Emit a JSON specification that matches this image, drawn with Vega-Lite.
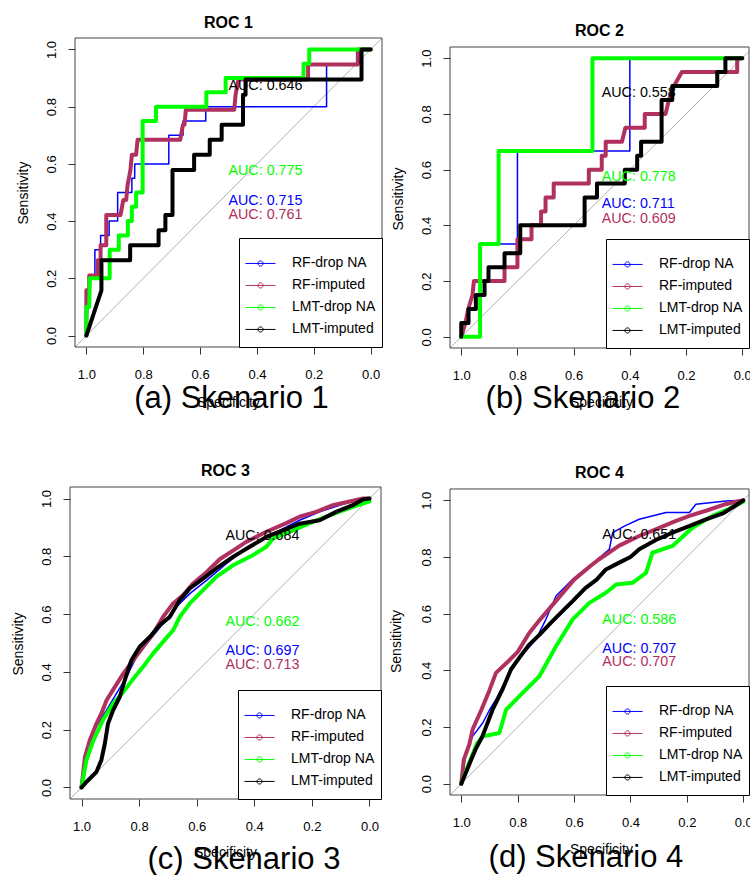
{
"$schema": "https://vega.github.io/schema/vega-lite/v6.json",
"background": "white",
"padding": {"left": 11, "top": 14, "right": 0, "bottom": 0},
"config": {
  "font": "Liberation Sans",
  "view": {"stroke": null},
  "axis": {"grid": false, "domain": false, "ticks": true, "tickColor": "#333", "tickSize": 7, "tickWidth": 1, "labelColor": "black", "labelFontSize": 13, "labelFont": "Liberation Sans", "titleFont": "Liberation Sans", "titleFontSize": 14, "titleFontWeight": "normal", "titleColor": "black", "labelFlush": false, "labelOverlap": false},
  "axisX": {"labelAngle": 0, "labelBaseline": "alphabetic", "labelPadding": 24, "labelAlign": "center"},
  "axisY": {"labelAngle": 270, "labelAlign": "center", "labelBaseline": "alphabetic", "labelPadding": 13},
  "title": {"font": "Liberation Sans", "fontSize": 16, "fontWeight": "bold", "color": "black", "frame": "group", "anchor": "middle", "offset": 7},
  "text": {"font": "Liberation Sans"}
},
"datasets": {
  "roc1": [
    {"spec":1,"sens":0,"series":"RF-drop NA"},{"spec":0.99,"sens":0.2,"series":"RF-drop NA"},{"spec":0.97,"sens":0.2,"series":"RF-drop NA"},{"spec":0.97,"sens":0.3,"series":"RF-drop NA"},{"spec":0.95,"sens":0.3,"series":"RF-drop NA"},{"spec":0.95,"sens":0.35,"series":"RF-drop NA"},{"spec":0.92,"sens":0.35,"series":"RF-drop NA"},{"spec":0.92,"sens":0.4,"series":"RF-drop NA"},{"spec":0.89,"sens":0.4,"series":"RF-drop NA"},{"spec":0.89,"sens":0.5,"series":"RF-drop NA"},{"spec":0.84,"sens":0.5,"series":"RF-drop NA"},{"spec":0.84,"sens":0.55,"series":"RF-drop NA"},{"spec":0.83,"sens":0.55,"series":"RF-drop NA"},{"spec":0.83,"sens":0.6,"series":"RF-drop NA"},{"spec":0.71,"sens":0.6,"series":"RF-drop NA"},{"spec":0.71,"sens":0.7,"series":"RF-drop NA"},{"spec":0.66,"sens":0.7,"series":"RF-drop NA"},{"spec":0.66,"sens":0.75,"series":"RF-drop NA"},{"spec":0.58,"sens":0.75,"series":"RF-drop NA"},{"spec":0.58,"sens":0.8,"series":"RF-drop NA"},{"spec":0.155,"sens":0.8,"series":"RF-drop NA"},{"spec":0.155,"sens":0.95,"series":"RF-drop NA"},{"spec":0.04,"sens":0.95,"series":"RF-drop NA"},{"spec":0.04,"sens":1,"series":"RF-drop NA"},{"spec":0,"sens":1,"series":"RF-drop NA"},
    {"spec":1,"sens":0,"series":"RF-imputed"},{"spec":1,"sens":0.158,"series":"RF-imputed"},{"spec":0.99,"sens":0.158,"series":"RF-imputed"},{"spec":0.99,"sens":0.21,"series":"RF-imputed"},{"spec":0.96,"sens":0.21,"series":"RF-imputed"},{"spec":0.96,"sens":0.263,"series":"RF-imputed"},{"spec":0.95,"sens":0.263,"series":"RF-imputed"},{"spec":0.95,"sens":0.316,"series":"RF-imputed"},{"spec":0.93,"sens":0.316,"series":"RF-imputed"},{"spec":0.93,"sens":0.421,"series":"RF-imputed"},{"spec":0.88,"sens":0.421,"series":"RF-imputed"},{"spec":0.87,"sens":0.474,"series":"RF-imputed"},{"spec":0.86,"sens":0.474,"series":"RF-imputed"},{"spec":0.855,"sens":0.526,"series":"RF-imputed"},{"spec":0.845,"sens":0.579,"series":"RF-imputed"},{"spec":0.84,"sens":0.632,"series":"RF-imputed"},{"spec":0.825,"sens":0.632,"series":"RF-imputed"},{"spec":0.82,"sens":0.684,"series":"RF-imputed"},{"spec":0.67,"sens":0.684,"series":"RF-imputed"},{"spec":0.66,"sens":0.737,"series":"RF-imputed"},{"spec":0.655,"sens":0.737,"series":"RF-imputed"},{"spec":0.65,"sens":0.789,"series":"RF-imputed"},{"spec":0.48,"sens":0.789,"series":"RF-imputed"},{"spec":0.475,"sens":0.842,"series":"RF-imputed"},{"spec":0.465,"sens":0.895,"series":"RF-imputed"},{"spec":0.22,"sens":0.895,"series":"RF-imputed"},{"spec":0.22,"sens":0.947,"series":"RF-imputed"},{"spec":0.045,"sens":0.947,"series":"RF-imputed"},{"spec":0.045,"sens":1,"series":"RF-imputed"},{"spec":0,"sens":1,"series":"RF-imputed"},
    {"spec":1,"sens":0,"series":"LMT-drop NA"},{"spec":1,"sens":0.1,"series":"LMT-drop NA"},{"spec":0.99,"sens":0.1,"series":"LMT-drop NA"},{"spec":0.988,"sens":0.2,"series":"LMT-drop NA"},{"spec":0.918,"sens":0.2,"series":"LMT-drop NA"},{"spec":0.918,"sens":0.3,"series":"LMT-drop NA"},{"spec":0.886,"sens":0.3,"series":"LMT-drop NA"},{"spec":0.886,"sens":0.35,"series":"LMT-drop NA"},{"spec":0.854,"sens":0.35,"series":"LMT-drop NA"},{"spec":0.854,"sens":0.4,"series":"LMT-drop NA"},{"spec":0.84,"sens":0.4,"series":"LMT-drop NA"},{"spec":0.84,"sens":0.45,"series":"LMT-drop NA"},{"spec":0.825,"sens":0.45,"series":"LMT-drop NA"},{"spec":0.825,"sens":0.5,"series":"LMT-drop NA"},{"spec":0.802,"sens":0.5,"series":"LMT-drop NA"},{"spec":0.802,"sens":0.75,"series":"LMT-drop NA"},{"spec":0.755,"sens":0.75,"series":"LMT-drop NA"},{"spec":0.755,"sens":0.8,"series":"LMT-drop NA"},{"spec":0.578,"sens":0.8,"series":"LMT-drop NA"},{"spec":0.578,"sens":0.85,"series":"LMT-drop NA"},{"spec":0.51,"sens":0.85,"series":"LMT-drop NA"},{"spec":0.51,"sens":0.9,"series":"LMT-drop NA"},{"spec":0.236,"sens":0.9,"series":"LMT-drop NA"},{"spec":0.236,"sens":0.95,"series":"LMT-drop NA"},{"spec":0.216,"sens":0.95,"series":"LMT-drop NA"},{"spec":0.216,"sens":1,"series":"LMT-drop NA"},{"spec":0,"sens":1,"series":"LMT-drop NA"},
    {"spec":1,"sens":0,"series":"LMT-imputed"},{"spec":0.947,"sens":0.158,"series":"LMT-imputed"},{"spec":0.947,"sens":0.263,"series":"LMT-imputed"},{"spec":0.846,"sens":0.263,"series":"LMT-imputed"},{"spec":0.846,"sens":0.316,"series":"LMT-imputed"},{"spec":0.746,"sens":0.316,"series":"LMT-imputed"},{"spec":0.746,"sens":0.368,"series":"LMT-imputed"},{"spec":0.722,"sens":0.368,"series":"LMT-imputed"},{"spec":0.722,"sens":0.421,"series":"LMT-imputed"},{"spec":0.697,"sens":0.421,"series":"LMT-imputed"},{"spec":0.697,"sens":0.579,"series":"LMT-imputed"},{"spec":0.621,"sens":0.579,"series":"LMT-imputed"},{"spec":0.621,"sens":0.632,"series":"LMT-imputed"},{"spec":0.566,"sens":0.632,"series":"LMT-imputed"},{"spec":0.566,"sens":0.684,"series":"LMT-imputed"},{"spec":0.524,"sens":0.684,"series":"LMT-imputed"},{"spec":0.524,"sens":0.737,"series":"LMT-imputed"},{"spec":0.449,"sens":0.737,"series":"LMT-imputed"},{"spec":0.449,"sens":0.842,"series":"LMT-imputed"},{"spec":0.44,"sens":0.842,"series":"LMT-imputed"},{"spec":0.44,"sens":0.895,"series":"LMT-imputed"},{"spec":0.032,"sens":0.895,"series":"LMT-imputed"},{"spec":0.032,"sens":1,"series":"LMT-imputed"},{"spec":0,"sens":1,"series":"LMT-imputed"}
  ],
  "roc2": [
    {"spec":1,"sens":0,"series":"RF-drop NA"},{"spec":0.933,"sens":0,"series":"RF-drop NA"},{"spec":0.933,"sens":0.333,"series":"RF-drop NA"},{"spec":0.8,"sens":0.333,"series":"RF-drop NA"},{"spec":0.8,"sens":0.667,"series":"RF-drop NA"},{"spec":0.4,"sens":0.667,"series":"RF-drop NA"},{"spec":0.4,"sens":1,"series":"RF-drop NA"},{"spec":0,"sens":1,"series":"RF-drop NA"},
    {"spec":1,"sens":0,"series":"RF-imputed"},{"spec":0.985,"sens":0.05,"series":"RF-imputed"},{"spec":0.975,"sens":0.1,"series":"RF-imputed"},{"spec":0.96,"sens":0.15,"series":"RF-imputed"},{"spec":0.955,"sens":0.2,"series":"RF-imputed"},{"spec":0.846,"sens":0.2,"series":"RF-imputed"},{"spec":0.846,"sens":0.25,"series":"RF-imputed"},{"spec":0.8,"sens":0.25,"series":"RF-imputed"},{"spec":0.8,"sens":0.35,"series":"RF-imputed"},{"spec":0.75,"sens":0.35,"series":"RF-imputed"},{"spec":0.75,"sens":0.4,"series":"RF-imputed"},{"spec":0.716,"sens":0.4,"series":"RF-imputed"},{"spec":0.716,"sens":0.45,"series":"RF-imputed"},{"spec":0.7,"sens":0.45,"series":"RF-imputed"},{"spec":0.7,"sens":0.5,"series":"RF-imputed"},{"spec":0.671,"sens":0.5,"series":"RF-imputed"},{"spec":0.671,"sens":0.55,"series":"RF-imputed"},{"spec":0.546,"sens":0.55,"series":"RF-imputed"},{"spec":0.546,"sens":0.6,"series":"RF-imputed"},{"spec":0.5,"sens":0.6,"series":"RF-imputed"},{"spec":0.5,"sens":0.65,"series":"RF-imputed"},{"spec":0.486,"sens":0.65,"series":"RF-imputed"},{"spec":0.486,"sens":0.7,"series":"RF-imputed"},{"spec":0.428,"sens":0.7,"series":"RF-imputed"},{"spec":0.416,"sens":0.75,"series":"RF-imputed"},{"spec":0.347,"sens":0.75,"series":"RF-imputed"},{"spec":0.347,"sens":0.8,"series":"RF-imputed"},{"spec":0.273,"sens":0.8,"series":"RF-imputed"},{"spec":0.261,"sens":0.85,"series":"RF-imputed"},{"spec":0.243,"sens":0.9,"series":"RF-imputed"},{"spec":0.215,"sens":0.95,"series":"RF-imputed"},{"spec":0.018,"sens":0.95,"series":"RF-imputed"},{"spec":0.018,"sens":1,"series":"RF-imputed"},{"spec":0,"sens":1,"series":"RF-imputed"},
    {"spec":1,"sens":0,"series":"LMT-drop NA"},{"spec":0.933,"sens":0,"series":"LMT-drop NA"},{"spec":0.933,"sens":0.333,"series":"LMT-drop NA"},{"spec":0.867,"sens":0.333,"series":"LMT-drop NA"},{"spec":0.867,"sens":0.667,"series":"LMT-drop NA"},{"spec":0.533,"sens":0.667,"series":"LMT-drop NA"},{"spec":0.533,"sens":1,"series":"LMT-drop NA"},{"spec":0,"sens":1,"series":"LMT-drop NA"},
    {"spec":1,"sens":0,"series":"LMT-imputed"},{"spec":1,"sens":0.05,"series":"LMT-imputed"},{"spec":0.974,"sens":0.05,"series":"LMT-imputed"},{"spec":0.974,"sens":0.1,"series":"LMT-imputed"},{"spec":0.948,"sens":0.1,"series":"LMT-imputed"},{"spec":0.948,"sens":0.15,"series":"LMT-imputed"},{"spec":0.917,"sens":0.15,"series":"LMT-imputed"},{"spec":0.917,"sens":0.2,"series":"LMT-imputed"},{"spec":0.903,"sens":0.2,"series":"LMT-imputed"},{"spec":0.903,"sens":0.25,"series":"LMT-imputed"},{"spec":0.846,"sens":0.25,"series":"LMT-imputed"},{"spec":0.846,"sens":0.3,"series":"LMT-imputed"},{"spec":0.79,"sens":0.3,"series":"LMT-imputed"},{"spec":0.79,"sens":0.4,"series":"LMT-imputed"},{"spec":0.561,"sens":0.4,"series":"LMT-imputed"},{"spec":0.561,"sens":0.5,"series":"LMT-imputed"},{"spec":0.517,"sens":0.5,"series":"LMT-imputed"},{"spec":0.517,"sens":0.55,"series":"LMT-imputed"},{"spec":0.418,"sens":0.55,"series":"LMT-imputed"},{"spec":0.418,"sens":0.6,"series":"LMT-imputed"},{"spec":0.374,"sens":0.6,"series":"LMT-imputed"},{"spec":0.374,"sens":0.65,"series":"LMT-imputed"},{"spec":0.36,"sens":0.65,"series":"LMT-imputed"},{"spec":0.36,"sens":0.7,"series":"LMT-imputed"},{"spec":0.287,"sens":0.7,"series":"LMT-imputed"},{"spec":0.287,"sens":0.85,"series":"LMT-imputed"},{"spec":0.249,"sens":0.85,"series":"LMT-imputed"},{"spec":0.249,"sens":0.9,"series":"LMT-imputed"},{"spec":0.089,"sens":0.9,"series":"LMT-imputed"},{"spec":0.089,"sens":0.95,"series":"LMT-imputed"},{"spec":0.06,"sens":0.95,"series":"LMT-imputed"},{"spec":0.06,"sens":1,"series":"LMT-imputed"},{"spec":0,"sens":1,"series":"LMT-imputed"}
  ],
  "roc3": [
    {"spec":1,"sens":0,"series":"RF-drop NA"},{"spec":1,"sens":0.014,"series":"RF-drop NA"},{"spec":0.983,"sens":0.106,"series":"RF-drop NA"},{"spec":0.962,"sens":0.193,"series":"RF-drop NA"},{"spec":0.942,"sens":0.221,"series":"RF-drop NA"},{"spec":0.913,"sens":0.268,"series":"RF-drop NA"},{"spec":0.879,"sens":0.325,"series":"RF-drop NA"},{"spec":0.844,"sens":0.383,"series":"RF-drop NA"},{"spec":0.809,"sens":0.452,"series":"RF-drop NA"},{"spec":0.763,"sens":0.51,"series":"RF-drop NA"},{"spec":0.717,"sens":0.567,"series":"RF-drop NA"},{"spec":0.671,"sens":0.625,"series":"RF-drop NA"},{"spec":0.624,"sens":0.671,"series":"RF-drop NA"},{"spec":0.566,"sens":0.717,"series":"RF-drop NA"},{"spec":0.497,"sens":0.775,"series":"RF-drop NA"},{"spec":0.451,"sens":0.81,"series":"RF-drop NA"},{"spec":0.382,"sens":0.856,"series":"RF-drop NA"},{"spec":0.312,"sens":0.89,"series":"RF-drop NA"},{"spec":0.243,"sens":0.925,"series":"RF-drop NA"},{"spec":0.173,"sens":0.954,"series":"RF-drop NA"},{"spec":0.104,"sens":0.977,"series":"RF-drop NA"},{"spec":0.046,"sens":0.994,"series":"RF-drop NA"},{"spec":0,"sens":1,"series":"RF-drop NA"},
    {"spec":1,"sens":0,"series":"RF-imputed"},{"spec":0.988,"sens":0.106,"series":"RF-imputed"},{"spec":0.971,"sens":0.164,"series":"RF-imputed"},{"spec":0.948,"sens":0.221,"series":"RF-imputed"},{"spec":0.931,"sens":0.256,"series":"RF-imputed"},{"spec":0.913,"sens":0.302,"series":"RF-imputed"},{"spec":0.884,"sens":0.348,"series":"RF-imputed"},{"spec":0.855,"sens":0.394,"series":"RF-imputed"},{"spec":0.821,"sens":0.44,"series":"RF-imputed"},{"spec":0.786,"sens":0.487,"series":"RF-imputed"},{"spec":0.751,"sens":0.533,"series":"RF-imputed"},{"spec":0.717,"sens":0.59,"series":"RF-imputed"},{"spec":0.682,"sens":0.637,"series":"RF-imputed"},{"spec":0.647,"sens":0.666,"series":"RF-imputed"},{"spec":0.613,"sens":0.706,"series":"RF-imputed"},{"spec":0.566,"sens":0.745,"series":"RF-imputed"},{"spec":0.52,"sens":0.79,"series":"RF-imputed"},{"spec":0.474,"sens":0.82,"series":"RF-imputed"},{"spec":0.428,"sens":0.85,"series":"RF-imputed"},{"spec":0.358,"sens":0.885,"series":"RF-imputed"},{"spec":0.289,"sens":0.915,"series":"RF-imputed"},{"spec":0.243,"sens":0.937,"series":"RF-imputed"},{"spec":0.185,"sens":0.954,"series":"RF-imputed"},{"spec":0.127,"sens":0.977,"series":"RF-imputed"},{"spec":0.069,"sens":0.99,"series":"RF-imputed"},{"spec":0.023,"sens":1,"series":"RF-imputed"},{"spec":0,"sens":1,"series":"RF-imputed"},
    {"spec":1,"sens":0,"series":"LMT-drop NA"},{"spec":0.983,"sens":0.095,"series":"LMT-drop NA"},{"spec":0.96,"sens":0.16,"series":"LMT-drop NA"},{"spec":0.925,"sens":0.235,"series":"LMT-drop NA"},{"spec":0.89,"sens":0.29,"series":"LMT-drop NA"},{"spec":0.855,"sens":0.33,"series":"LMT-drop NA"},{"spec":0.821,"sens":0.375,"series":"LMT-drop NA"},{"spec":0.786,"sens":0.418,"series":"LMT-drop NA"},{"spec":0.751,"sens":0.464,"series":"LMT-drop NA"},{"spec":0.717,"sens":0.504,"series":"LMT-drop NA"},{"spec":0.682,"sens":0.544,"series":"LMT-drop NA"},{"spec":0.659,"sens":0.59,"series":"LMT-drop NA"},{"spec":0.624,"sens":0.637,"series":"LMT-drop NA"},{"spec":0.578,"sens":0.683,"series":"LMT-drop NA"},{"spec":0.532,"sens":0.729,"series":"LMT-drop NA"},{"spec":0.474,"sens":0.769,"series":"LMT-drop NA"},{"spec":0.405,"sens":0.804,"series":"LMT-drop NA"},{"spec":0.358,"sens":0.833,"series":"LMT-drop NA"},{"spec":0.335,"sens":0.862,"series":"LMT-drop NA"},{"spec":0.266,"sens":0.89,"series":"LMT-drop NA"},{"spec":0.197,"sens":0.919,"series":"LMT-drop NA"},{"spec":0.127,"sens":0.946,"series":"LMT-drop NA"},{"spec":0.058,"sens":0.971,"series":"LMT-drop NA"},{"spec":0,"sens":0.99,"series":"LMT-drop NA"},
    {"spec":1,"sens":0,"series":"LMT-imputed"},{"spec":0.977,"sens":0.025,"series":"LMT-imputed"},{"spec":0.948,"sens":0.054,"series":"LMT-imputed"},{"spec":0.931,"sens":0.095,"series":"LMT-imputed"},{"spec":0.919,"sens":0.152,"series":"LMT-imputed"},{"spec":0.908,"sens":0.221,"series":"LMT-imputed"},{"spec":0.89,"sens":0.268,"series":"LMT-imputed"},{"spec":0.867,"sens":0.314,"series":"LMT-imputed"},{"spec":0.85,"sens":0.371,"series":"LMT-imputed"},{"spec":0.827,"sens":0.44,"series":"LMT-imputed"},{"spec":0.798,"sens":0.487,"series":"LMT-imputed"},{"spec":0.763,"sens":0.521,"series":"LMT-imputed"},{"spec":0.728,"sens":0.562,"series":"LMT-imputed"},{"spec":0.694,"sens":0.59,"series":"LMT-imputed"},{"spec":0.659,"sens":0.648,"series":"LMT-imputed"},{"spec":0.624,"sens":0.689,"series":"LMT-imputed"},{"spec":0.578,"sens":0.723,"series":"LMT-imputed"},{"spec":0.532,"sens":0.758,"series":"LMT-imputed"},{"spec":0.474,"sens":0.798,"series":"LMT-imputed"},{"spec":0.416,"sens":0.833,"series":"LMT-imputed"},{"spec":0.358,"sens":0.867,"series":"LMT-imputed"},{"spec":0.301,"sens":0.89,"series":"LMT-imputed"},{"spec":0.243,"sens":0.913,"series":"LMT-imputed"},{"spec":0.173,"sens":0.925,"series":"LMT-imputed"},{"spec":0.116,"sens":0.954,"series":"LMT-imputed"},{"spec":0.058,"sens":0.977,"series":"LMT-imputed"},{"spec":0.023,"sens":0.997,"series":"LMT-imputed"},{"spec":0,"sens":1,"series":"LMT-imputed"}
  ],
  "roc4": [
    {"spec":1,"sens":0,"series":"RF-drop NA"},{"spec":0.985,"sens":0.1,"series":"RF-drop NA"},{"spec":0.96,"sens":0.167,"series":"RF-drop NA"},{"spec":0.924,"sens":0.214,"series":"RF-drop NA"},{"spec":0.9,"sens":0.26,"series":"RF-drop NA"},{"spec":0.877,"sens":0.297,"series":"RF-drop NA"},{"spec":0.85,"sens":0.35,"series":"RF-drop NA"},{"spec":0.806,"sens":0.426,"series":"RF-drop NA"},{"spec":0.77,"sens":0.47,"series":"RF-drop NA"},{"spec":0.735,"sens":0.509,"series":"RF-drop NA"},{"spec":0.7,"sens":0.58,"series":"RF-drop NA"},{"spec":0.664,"sens":0.662,"series":"RF-drop NA"},{"spec":0.605,"sens":0.721,"series":"RF-drop NA"},{"spec":0.546,"sens":0.768,"series":"RF-drop NA"},{"spec":0.475,"sens":0.827,"series":"RF-drop NA"},{"spec":0.463,"sens":0.886,"series":"RF-drop NA"},{"spec":0.42,"sens":0.91,"series":"RF-drop NA"},{"spec":0.369,"sens":0.933,"series":"RF-drop NA"},{"spec":0.274,"sens":0.957,"series":"RF-drop NA"},{"spec":0.191,"sens":0.957,"series":"RF-drop NA"},{"spec":0.168,"sens":0.986,"series":"RF-drop NA"},{"spec":0.061,"sens":0.998,"series":"RF-drop NA"},{"spec":0,"sens":1,"series":"RF-drop NA"},
    {"spec":1,"sens":0,"series":"RF-imputed"},{"spec":0.991,"sens":0.085,"series":"RF-imputed"},{"spec":0.971,"sens":0.14,"series":"RF-imputed"},{"spec":0.96,"sens":0.191,"series":"RF-imputed"},{"spec":0.929,"sens":0.26,"series":"RF-imputed"},{"spec":0.9,"sens":0.33,"series":"RF-imputed"},{"spec":0.877,"sens":0.391,"series":"RF-imputed"},{"spec":0.835,"sens":0.43,"series":"RF-imputed"},{"spec":0.8,"sens":0.465,"series":"RF-imputed"},{"spec":0.759,"sens":0.532,"series":"RF-imputed"},{"spec":0.72,"sens":0.58,"series":"RF-imputed"},{"spec":0.664,"sens":0.645,"series":"RF-imputed"},{"spec":0.6,"sens":0.72,"series":"RF-imputed"},{"spec":0.54,"sens":0.77,"series":"RF-imputed"},{"spec":0.511,"sens":0.792,"series":"RF-imputed"},{"spec":0.44,"sens":0.84,"series":"RF-imputed"},{"spec":0.369,"sens":0.874,"series":"RF-imputed"},{"spec":0.304,"sens":0.9,"series":"RF-imputed"},{"spec":0.245,"sens":0.925,"series":"RF-imputed"},{"spec":0.191,"sens":0.945,"series":"RF-imputed"},{"spec":0.127,"sens":0.965,"series":"RF-imputed"},{"spec":0.068,"sens":0.985,"series":"RF-imputed"},{"spec":0,"sens":1,"series":"RF-imputed"},
    {"spec":1,"sens":0,"series":"LMT-drop NA"},{"spec":0.972,"sens":0.074,"series":"LMT-drop NA"},{"spec":0.945,"sens":0.14,"series":"LMT-drop NA"},{"spec":0.924,"sens":0.167,"series":"LMT-drop NA"},{"spec":0.865,"sens":0.179,"series":"LMT-drop NA"},{"spec":0.841,"sens":0.261,"series":"LMT-drop NA"},{"spec":0.794,"sens":0.309,"series":"LMT-drop NA"},{"spec":0.723,"sens":0.379,"series":"LMT-drop NA"},{"spec":0.664,"sens":0.485,"series":"LMT-drop NA"},{"spec":0.605,"sens":0.58,"series":"LMT-drop NA"},{"spec":0.546,"sens":0.638,"series":"LMT-drop NA"},{"spec":0.487,"sens":0.674,"series":"LMT-drop NA"},{"spec":0.451,"sens":0.703,"series":"LMT-drop NA"},{"spec":0.393,"sens":0.709,"series":"LMT-drop NA"},{"spec":0.345,"sens":0.744,"series":"LMT-drop NA"},{"spec":0.322,"sens":0.815,"series":"LMT-drop NA"},{"spec":0.251,"sens":0.839,"series":"LMT-drop NA"},{"spec":0.18,"sens":0.903,"series":"LMT-drop NA"},{"spec":0.109,"sens":0.945,"series":"LMT-drop NA"},{"spec":0.05,"sens":0.97,"series":"LMT-drop NA"},{"spec":0,"sens":0.995,"series":"LMT-drop NA"},
    {"spec":1,"sens":0,"series":"LMT-imputed"},{"spec":0.975,"sens":0.06,"series":"LMT-imputed"},{"spec":0.95,"sens":0.12,"series":"LMT-imputed"},{"spec":0.925,"sens":0.167,"series":"LMT-imputed"},{"spec":0.889,"sens":0.261,"series":"LMT-imputed"},{"spec":0.855,"sens":0.33,"series":"LMT-imputed"},{"spec":0.824,"sens":0.403,"series":"LMT-imputed"},{"spec":0.79,"sens":0.45,"series":"LMT-imputed"},{"spec":0.76,"sens":0.49,"series":"LMT-imputed"},{"spec":0.723,"sens":0.525,"series":"LMT-imputed"},{"spec":0.68,"sens":0.57,"series":"LMT-imputed"},{"spec":0.64,"sens":0.61,"series":"LMT-imputed"},{"spec":0.605,"sens":0.644,"series":"LMT-imputed"},{"spec":0.56,"sens":0.69,"series":"LMT-imputed"},{"spec":0.52,"sens":0.72,"series":"LMT-imputed"},{"spec":0.487,"sens":0.756,"series":"LMT-imputed"},{"spec":0.44,"sens":0.78,"series":"LMT-imputed"},{"spec":0.4,"sens":0.8,"series":"LMT-imputed"},{"spec":0.369,"sens":0.827,"series":"LMT-imputed"},{"spec":0.31,"sens":0.86,"series":"LMT-imputed"},{"spec":0.251,"sens":0.886,"series":"LMT-imputed"},{"spec":0.19,"sens":0.91,"series":"LMT-imputed"},{"spec":0.132,"sens":0.933,"series":"LMT-imputed"},{"spec":0.07,"sens":0.955,"series":"LMT-imputed"},{"spec":0.03,"sens":0.98,"series":"LMT-imputed"},{"spec":0,"sens":1,"series":"LMT-imputed"}
  ],
  "auc1": [
    {"spec":0.5,"sens":0.871,"series":"LMT-imputed","label":"AUC: 0.646"},
    {"spec":0.5,"sens":0.574,"series":"LMT-drop NA","label":"AUC: 0.775"},
    {"spec":0.5,"sens":0.472,"series":"RF-drop NA","label":"AUC: 0.715"},
    {"spec":0.5,"sens":0.423,"series":"RF-imputed","label":"AUC: 0.761"}
  ],
  "auc2": [
    {"spec":0.5,"sens":0.876,"series":"LMT-imputed","label":"AUC: 0.558"},
    {"spec":0.5,"sens":0.575,"series":"LMT-drop NA","label":"AUC: 0.778"},
    {"spec":0.5,"sens":0.475,"series":"RF-drop NA","label":"AUC: 0.711"},
    {"spec":0.5,"sens":0.424,"series":"RF-imputed","label":"AUC: 0.609"}
  ],
  "auc3": [
    {"spec":0.5,"sens":0.872,"series":"LMT-imputed","label":"AUC: 0.684"},
    {"spec":0.5,"sens":0.574,"series":"LMT-drop NA","label":"AUC: 0.662"},
    {"spec":0.5,"sens":0.474,"series":"RF-drop NA","label":"AUC: 0.697"},
    {"spec":0.5,"sens":0.425,"series":"RF-imputed","label":"AUC: 0.713"}
  ],
  "auc4": [
    {"spec":0.5,"sens":0.876,"series":"LMT-imputed","label":"AUC: 0.651"},
    {"spec":0.5,"sens":0.576,"series":"LMT-drop NA","label":"AUC: 0.586"},
    {"spec":0.5,"sens":0.477,"series":"RF-drop NA","label":"AUC: 0.707"},
    {"spec":0.5,"sens":0.429,"series":"RF-imputed","label":"AUC: 0.707"}
  ]
},
"columns": 2,
"bounds": "flush",
"spacing": {"row": 139, "column": 68},
"resolve": {"scale": {"color": "independent"}, "legend": {"color": "independent"}},
"concat": [
  {
    "width": 312, "height": 309,
    "title": {"text": "ROC 1", "dx": 2.5},
    "resolve": {"scale": {"color": "independent"}, "legend": {"color": "independent"}},
    "layer": [
      {"data": {"values": [{}]}, "mark": {"type": "rule", "color": "#b0b0b0", "strokeWidth": 1},
       "encoding": {"x": {"datum": 1.04, "type": "quantitative", "scale": {"domain": [-0.04, 1.0576], "reverse": true, "nice": false, "zero": false}}, "x2": {"datum": -0.04}, "y": {"datum": -0.04, "type": "quantitative", "scale": {"domain": [-0.04, 1.04], "nice": false, "zero": false}}, "y2": {"datum": 1.04}}},
      {"data": {"values": [{}]}, "mark": {"type": "rect", "fill": "transparent", "stroke": "#444", "strokeWidth": 1},
       "encoding": {"x": {"datum": 1.04, "type": "quantitative"}, "x2": {"datum": -0.04}, "y": {"datum": -0.04, "type": "quantitative"}, "y2": {"datum": 1.04}}},
      {"data": {"name": "roc1"}, "mark": {"type": "line", "strokeCap": "round", "strokeJoin": "round"},
       "encoding": {
         "x": {"field": "spec", "type": "quantitative", "scale": {"domain": [-0.04, 1.0576], "reverse": true, "nice": false, "zero": false}, "axis": {"title": "Specificity", "values": [0, 0.2, 0.4, 0.6, 0.8, 1], "format": ".1f", "titleX": 158, "titleY": 55, "titleBaseline": "middle", "titleAlign": "center", "titleAngle": 0}},
         "y": {"field": "sens", "type": "quantitative", "scale": {"domain": [-0.04, 1.04], "nice": false, "zero": false}, "axis": {"title": "Sensitivity", "offset": -5, "values": [0, 0.2, 0.4, 0.6, 0.8, 1], "format": ".1f", "titleX": -52, "titleY": 154.5, "titleAngle": 270, "titleAlign": "center", "titleBaseline": "middle"}},
         "color": {"field": "series", "type": "nominal", "scale": {"domain": ["RF-drop NA", "RF-imputed", "LMT-drop NA", "LMT-imputed"], "range": ["#0000FF", "#B03060", "#00FF00", "#000000"]},
           "legend": {"title": " ", "orient": "bottom-right", "offset": 0, "padding": 6, "strokeColor": "black", "fillColor": "white", "titleFontSize": 1, "titlePadding": 7.8, "clipHeight": 21.3, "rowPadding": 0, "symbolType": "M-1,0H1M0.17,0A0.17,0.17,0,1,1,-0.17,0A0.17,0.17,0,1,1,0.17,0", "symbolSize": 900, "symbolStrokeWidth": 1, "symbolFillColor": "transparent", "labelFontSize": 14, "labelOffset": 16, "labelColor": "black", "labelFont": "Liberation Sans", "labelLimit": 200}},
         "strokeWidth": {"condition": {"test": "datum.series === 'RF-drop NA'", "value": 1.5}, "value": 4},
         "order": {"value": null}
       }},
      {"data": {"name": "auc1"}, "mark": {"type": "text", "align": "left", "baseline": "middle", "fontSize": 14.3},
       "encoding": {"x": {"field": "spec", "type": "quantitative"}, "y": {"field": "sens", "type": "quantitative"}, "text": {"field": "label"},
         "color": {"field": "series", "type": "nominal", "scale": {"domain": ["RF-drop NA", "RF-imputed", "LMT-drop NA", "LMT-imputed"], "range": ["#0000FF", "#B03060", "#00FF00", "#000000"]}, "legend": null}}},
      {"data": {"values": [{}]}, "mark": {"type": "text", "align": "center", "baseline": "alphabetic", "fontSize": 31, "color": "black"},
       "encoding": {"x": {"datum": 0.4894, "type": "quantitative"}, "y": {"datum": -0.254, "type": "quantitative"}, "text": {"value": "(a) Skenario 1"}}}
    ]
  },
  {
    "width": 299, "height": 310,
    "title": {"text": "ROC 2", "dy": 8},
    "resolve": {"scale": {"color": "independent"}, "legend": {"color": "independent"}},
    "layer": [
      {"data": {"values": [{}]}, "mark": {"type": "rule", "color": "#b0b0b0", "strokeWidth": 1},
       "encoding": {"x": {"datum": 1.04, "type": "quantitative", "scale": {"domain": [-0.024, 1.04], "reverse": true, "nice": false, "zero": false}}, "x2": {"datum": -0.024}, "y": {"datum": -0.04, "type": "quantitative", "scale": {"domain": [-0.04, 1.0723], "nice": false, "zero": false}}, "y2": {"datum": 1.024}}},
      {"data": {"values": [{}]}, "mark": {"type": "rect", "fill": "transparent", "stroke": "#444", "strokeWidth": 1},
       "encoding": {"x": {"datum": 1.04, "type": "quantitative"}, "x2": {"datum": -0.024}, "y": {"datum": -0.04, "type": "quantitative"}, "y2": {"datum": 1.04}}},
      {"data": {"name": "roc2"}, "mark": {"type": "line", "strokeCap": "round", "strokeJoin": "round"},
       "encoding": {
         "x": {"field": "spec", "type": "quantitative", "scale": {"domain": [-0.024, 1.04], "reverse": true, "nice": false, "zero": false}, "axis": {"title": "Specificity", "values": [0, 0.2, 0.4, 0.6, 0.8, 1], "format": ".1f", "titleX": 151, "titleY": 54, "titleBaseline": "middle", "titleAlign": "center", "titleAngle": 0}},
         "y": {"field": "sens", "type": "quantitative", "scale": {"domain": [-0.04, 1.0723], "nice": false, "zero": false}, "axis": {"title": "Sensitivity", "values": [0, 0.2, 0.4, 0.6, 0.8, 1], "format": ".1f", "titleX": -52, "titleY": 160.5, "titleAngle": 270, "titleAlign": "center", "titleBaseline": "middle"}},
         "color": {"field": "series", "type": "nominal", "scale": {"domain": ["RF-drop NA", "RF-imputed", "LMT-drop NA", "LMT-imputed"], "range": ["#0000FF", "#B03060", "#00FF00", "#000000"]},
           "legend": {"title": " ", "orient": "bottom-right", "offset": 0, "padding": 6, "strokeColor": "black", "fillColor": "white", "titleFontSize": 1, "titlePadding": 7.8, "clipHeight": 21.3, "rowPadding": 0, "symbolType": "M-1,0H1M0.17,0A0.17,0.17,0,1,1,-0.17,0A0.17,0.17,0,1,1,0.17,0", "symbolSize": 900, "symbolStrokeWidth": 1, "symbolFillColor": "transparent", "labelFontSize": 14, "labelOffset": 16, "labelColor": "black", "labelFont": "Liberation Sans", "labelLimit": 200}},
         "strokeWidth": {"condition": {"test": "datum.series === 'RF-drop NA'", "value": 1.5}, "value": 4},
         "order": {"value": null}
       }},
      {"data": {"name": "auc2"}, "mark": {"type": "text", "align": "left", "baseline": "middle", "fontSize": 14.3},
       "encoding": {"x": {"field": "spec", "type": "quantitative"}, "y": {"field": "sens", "type": "quantitative"}, "text": {"field": "label"},
         "color": {"field": "series", "type": "nominal", "scale": {"domain": ["RF-drop NA", "RF-imputed", "LMT-drop NA", "LMT-imputed"], "range": ["#0000FF", "#B03060", "#00FF00", "#000000"]}, "legend": null}}},
      {"data": {"values": [{}]}, "mark": {"type": "text", "align": "center", "baseline": "alphabetic", "fontSize": 31, "color": "black"},
       "encoding": {"x": {"datum": 0.567, "type": "quantitative"}, "y": {"datum": -0.2564, "type": "quantitative"}, "text": {"value": "(b) Skenario 2"}}}
    ]
  },
  {
    "width": 311, "height": 312,
    "title": {"text": "ROC 3", "offset": 7.7},
    "resolve": {"scale": {"color": "independent"}, "legend": {"color": "independent"}},
    "layer": [
      {"data": {"values": [{}]}, "mark": {"type": "rule", "color": "#b0b0b0", "strokeWidth": 1},
       "encoding": {"x": {"datum": 1.04, "type": "quantitative", "scale": {"domain": [-0.04, 1.04], "reverse": true, "nice": false, "zero": false}}, "x2": {"datum": -0.04}, "y": {"datum": -0.04, "type": "quantitative", "scale": {"domain": [-0.04, 1.04], "nice": false, "zero": false}}, "y2": {"datum": 1.04}}},
      {"data": {"values": [{}]}, "mark": {"type": "rect", "fill": "transparent", "stroke": "#444", "strokeWidth": 1},
       "encoding": {"x": {"datum": 1.04, "type": "quantitative"}, "x2": {"datum": -0.04}, "y": {"datum": -0.04, "type": "quantitative"}, "y2": {"datum": 1.04}}},
      {"data": {"name": "roc3"}, "mark": {"type": "line", "strokeCap": "round", "strokeJoin": "round"},
       "encoding": {
         "x": {"field": "spec", "type": "quantitative", "scale": {"domain": [-0.04, 1.04], "reverse": true, "nice": false, "zero": false}, "axis": {"title": "Specificity", "values": [0, 0.2, 0.4, 0.6, 0.8, 1], "format": ".1f", "titleX": 155, "titleY": 53, "titleBaseline": "middle", "titleAlign": "center", "titleAngle": 0}},
         "y": {"field": "sens", "type": "quantitative", "scale": {"domain": [-0.04, 1.04], "nice": false, "zero": false}, "axis": {"title": "Sensitivity", "values": [0, 0.2, 0.4, 0.6, 0.8, 1], "format": ".1f", "titleX": -52, "titleY": 156.5, "titleAngle": 270, "titleAlign": "center", "titleBaseline": "middle"}},
         "color": {"field": "series", "type": "nominal", "scale": {"domain": ["RF-drop NA", "RF-imputed", "LMT-drop NA", "LMT-imputed"], "range": ["#0000FF", "#B03060", "#00FF00", "#000000"]},
           "legend": {"title": " ", "orient": "bottom-right", "offset": 0, "padding": 6, "strokeColor": "black", "fillColor": "white", "titleFontSize": 1, "titlePadding": 7.8, "clipHeight": 21.3, "rowPadding": 0, "symbolType": "M-1,0H1M0.17,0A0.17,0.17,0,1,1,-0.17,0A0.17,0.17,0,1,1,0.17,0", "symbolSize": 900, "symbolStrokeWidth": 1, "symbolFillColor": "transparent", "labelFontSize": 14, "labelOffset": 16, "labelColor": "black", "labelFont": "Liberation Sans", "labelLimit": 200}},
         "strokeWidth": {"condition": {"test": "datum.series === 'RF-drop NA'", "value": 1.5}, "value": 4},
         "order": {"value": null}
       }},
      {"data": {"name": "auc3"}, "mark": {"type": "text", "align": "left", "baseline": "middle", "fontSize": 14.3},
       "encoding": {"x": {"field": "spec", "type": "quantitative"}, "y": {"field": "sens", "type": "quantitative"}, "text": {"field": "label"},
         "color": {"field": "series", "type": "nominal", "scale": {"domain": ["RF-drop NA", "RF-imputed", "LMT-drop NA", "LMT-imputed"], "range": ["#0000FF", "#B03060", "#00FF00", "#000000"]}, "legend": null}}},
      {"data": {"values": [{}]}, "mark": {"type": "text", "align": "center", "baseline": "alphabetic", "fontSize": 31, "color": "black"},
       "encoding": {"x": {"datum": 0.436, "type": "quantitative"}, "y": {"datum": -0.282, "type": "quantitative"}, "text": {"value": "(c) Skenario 3"}}}
    ]
  },
  {
    "width": 299, "height": 308,
    "title": {"text": "ROC 4", "offset": 6},
    "resolve": {"scale": {"color": "independent"}, "legend": {"color": "independent"}},
    "layer": [
      {"data": {"values": [{}]}, "mark": {"type": "rule", "color": "#b0b0b0", "strokeWidth": 1},
       "encoding": {"x": {"datum": 1.04, "type": "quantitative", "scale": {"domain": [-0.0203, 1.04], "reverse": true, "nice": false, "zero": false}}, "x2": {"datum": -0.0203}, "y": {"datum": -0.04, "type": "quantitative", "scale": {"domain": [-0.04, 1.047], "nice": false, "zero": false}}, "y2": {"datum": 1.0203}}},
      {"data": {"values": [{}]}, "mark": {"type": "rect", "fill": "transparent", "stroke": "#444", "strokeWidth": 1},
       "encoding": {"x": {"datum": 1.04, "type": "quantitative"}, "x2": {"datum": -0.0203}, "y": {"datum": -0.04, "type": "quantitative"}, "y2": {"datum": 1.04}}},
      {"data": {"name": "roc4"}, "mark": {"type": "line", "strokeCap": "round", "strokeJoin": "round"},
       "encoding": {
         "x": {"field": "spec", "type": "quantitative", "scale": {"domain": [-0.0203, 1.04], "reverse": true, "nice": false, "zero": false}, "axis": {"title": "Specificity", "values": [0, 0.2, 0.4, 0.6, 0.8, 1], "format": ".1f", "titleX": 151, "titleY": 54, "titleBaseline": "middle", "titleAlign": "center", "titleAngle": 0}},
         "y": {"field": "sens", "type": "quantitative", "scale": {"domain": [-0.04, 1.047], "nice": false, "zero": false}, "axis": {"title": "Sensitivity", "values": [0, 0.2, 0.4, 0.6, 0.8, 1], "format": ".1f", "titleX": -54, "titleY": 154, "titleAngle": 270, "titleAlign": "center", "titleBaseline": "middle"}},
         "color": {"field": "series", "type": "nominal", "scale": {"domain": ["RF-drop NA", "RF-imputed", "LMT-drop NA", "LMT-imputed"], "range": ["#0000FF", "#B03060", "#00FF00", "#000000"]},
           "legend": {"title": " ", "orient": "bottom-right", "offset": 0, "padding": 6, "strokeColor": "black", "fillColor": "white", "titleFontSize": 1, "titlePadding": 7.8, "clipHeight": 21.3, "rowPadding": 0, "symbolType": "M-1,0H1M0.17,0A0.17,0.17,0,1,1,-0.17,0A0.17,0.17,0,1,1,0.17,0", "symbolSize": 900, "symbolStrokeWidth": 1, "symbolFillColor": "transparent", "labelFontSize": 14, "labelOffset": 16, "labelColor": "black", "labelFont": "Liberation Sans", "labelLimit": 200}},
         "strokeWidth": {"condition": {"test": "datum.series === 'RF-drop NA'", "value": 1.5}, "value": 4},
         "order": {"value": null}
       }},
      {"data": {"name": "auc4"}, "mark": {"type": "text", "align": "left", "baseline": "middle", "fontSize": 14.3},
       "encoding": {"x": {"field": "spec", "type": "quantitative"}, "y": {"field": "sens", "type": "quantitative"}, "text": {"field": "label"},
         "color": {"field": "series", "type": "nominal", "scale": {"domain": ["RF-drop NA", "RF-imputed", "LMT-drop NA", "LMT-imputed"], "range": ["#0000FF", "#B03060", "#00FF00", "#000000"]}, "legend": null}}},
      {"data": {"values": [{}]}, "mark": {"type": "text", "align": "center", "baseline": "alphabetic", "fontSize": 31, "color": "black"},
       "encoding": {"x": {"datum": 0.558, "type": "quantitative"}, "y": {"datum": -0.294, "type": "quantitative"}, "text": {"value": "(d) Skenario 4"}}}
    ]
  }
]
}
